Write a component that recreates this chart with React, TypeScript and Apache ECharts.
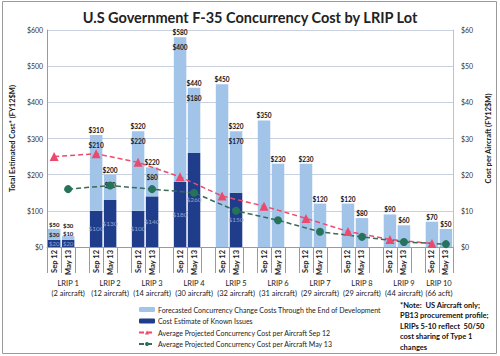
import React, { useEffect, useRef } from "react";
import * as echarts from "echarts";

const lots = ["LRIP 1", "LRIP 2", "LRIP 3", "LRIP 4", "LRIP 5", "LRIP 6", "LRIP 7", "LRIP 8", "LRIP 9", "LRIP 10"];
const aircraft = ["(2 aircraft)", "(12 aircraft)", "(14 aircraft)", "(30 aircraft)", "(32 aircraft)", "(31 aircraft)", "(29 aircraft)", "(29 aircraft)", "(44 aircraft)", "(66 acft)"];
const estimates = ["Sep 12", "May 13"];

// Cost estimate of known issues (dark blue), $M
const knownSep = [20, 100, 100, 180, null, null, null, null, null, null];
const knownMay = [20, 130, 140, 260, 150, null, null, null, null, null];
// Forecasted concurrency change costs (light blue segment), $M
const forecastSep = [30, 210, 220, 400, 450, 350, 230, 120, 90, 70];
const forecastMay = [10, 70, 80, 180, 170, 230, 120, 80, 60, 50];
// Totals, $M
const totalSep = [50, 310, 320, 580, 450, 350, 230, 120, 90, 70];
const totalMay = [30, 200, 220, 440, 320, 230, 120, 80, 60, 50];
// Average projected concurrency cost per aircraft, $M
const perAcSep = [25.0, 25.8, 23.4, 19.4, 14.1, 11.3, 7.9, 4.3, 2.1, 1.0];
const perAcMay = [16.0, 17.0, 16.0, 15.0, 10.0, 7.4, 4.2, 2.8, 1.4, 0.8];

const leftTicks = [0, 100, 200, 300, 400, 500, 600];
const rightTicks = [0, 10, 20, 30, 40, 50, 60];

const LIGHT = "#a2c4e8";
const DARK = "#1f3d8b";
const RED = "#ec4a6d";
const GREEN = "#24735a";
const FONT = "Lato";

// build 29 slots: Sep, May, blank per lot (no trailing blank)
const slotKeys: string[] = [];
const slotLabel: string[] = [];
function flat(sep: (number | null)[], may: (number | null)[]) {
  const out: (number | null)[] = [];
  for (let i = 0; i < lots.length; i++) {
    out.push(sep[i], may[i]);
    if (i < lots.length - 1) out.push(null);
  }
  return out;
}
for (let i = 0; i < lots.length; i++) {
  slotKeys.push(`L${i}S`, `L${i}M`);
  slotLabel.push(estimates[0], estimates[1]);
  if (i < lots.length - 1) {
    slotKeys.push(`L${i}B`);
    slotLabel.push("");
  }
}
const known = flat(knownSep, knownMay);
const forecast = flat(forecastSep, forecastMay);
const totals = flat(totalSep, totalMay);
const redLine = flat(perAcSep, lots.map(() => null));
const greenLine = flat(lots.map(() => null), perAcMay);

// label placement tweaks for the very short LRIP 1 bars
const lightLabelPos: Record<number, any> = {
  0: { position: "inside", fontSize: 6 },
  1: { position: "top", distance: 0, fontSize: 6 },
};
const totalLabelPos: Record<number, any> = {
  0: { distance: 1, fontSize: 6 },
  1: { distance: 8, fontSize: 6 },
};
const darkLabelPos: Record<number, any> = {
  0: { fontSize: 6 },
  1: { fontSize: 6 },
};

const knownData = known.map((v, i) => (darkLabelPos[i] ? { value: v, label: darkLabelPos[i] } : v));
const forecastData = forecast.map((v, i) => (lightLabelPos[i] ? { value: v, label: lightLabelPos[i] } : v));
const totalData = totals.map((v, i) => (totalLabelPos[i] ? { value: v, label: totalLabelPos[i] } : v));

// lot label axis: half-slot points
const nSlots = slotKeys.length;
const halfKeys: string[] = [];
const halfLabels: string[] = [];
for (let k = 0; k <= nSlots * 2; k++) {
  halfKeys.push(`h${k}`);
  halfLabels.push("");
}
for (let i = 0; i < lots.length; i++) {
  const center = i < lots.length - 1 ? 6 * i + 3 : 6 * i + 2;
  halfLabels[center] = `${lots[i]}\n${aircraft[i]}`;
}

const legendNames = [
  "Forecasted Concurrency Change Costs Through the End of Development",
  "Cost Estimate of Known Issues",
  "Average Projected Concurrency Cost per Aircraft Sep 12",
  "Average Projected Concurrency Cost per Aircraft May 13",
];

export default function App() {
  const ref = useRef<HTMLDivElement>(null);
  useEffect(() => {
    if (!ref.current) return;
    const chart = echarts.init(ref.current, null, { renderer: "svg" });
    chart.setOption({
      animation: false,
      backgroundColor: "#ffffff",
      textStyle: { fontFamily: FONT },
      title: {
        text: "U.S Government F-35 Concurrency Cost by LRIP Lot",
        left: "center",
        top: 5,
        textStyle: { fontFamily: FONT, fontSize: 14.5, fontWeight: "bold", color: "#222" },
      },
      graphic: [
        {
          type: "rect",
          shape: { x: 2.5, y: 1.5, width: 494, height: 352 },
          style: { fill: "none", stroke: "#9a9a9a", lineWidth: 1 },
          silent: true,
        },
        {
          type: "text",
          left: 400,
          top: 300,
          style: {
            text: "*Note:  US Aircraft only;\nPB13 procurement profile;\nLRIPs 5-10 reflect  50/50\ncost sharing of Type 1\nchanges",
            font: `bold 7.5px ${FONT}`,
            fill: "#111",
            lineHeight: 10.5,
          },
        },
      ],
      legend: {
        data: legendNames,
        orient: "vertical",
        left: 133,
        top: 301,
        itemGap: 4.5,
        itemWidth: 16,
        itemHeight: 5,
        textStyle: { fontFamily: FONT, fontSize: 7, color: "#222", padding: [0, 0, 0, -2] },
        selectedMode: false,
      },
      grid: { left: 43, right: 40, top: 30, bottom: 109, containLabel: false },
      xAxis: [
        {
          type: "category",
          data: slotKeys,
          axisLine: { lineStyle: { color: "#9a9a9a" } },
          axisTick: { show: true, length: 26, interval: 0, lineStyle: { color: "#9a9a9a" } },
          axisLabel: {
            interval: 0,
            rotate: 90,
            fontSize: 7.5,
            fontWeight: "bold",
            color: "#222",
            margin: 3,
            formatter: (_v: string, i: number) => slotLabel[i],
          },
          splitLine: { show: false },
        },
        {
          type: "category",
          data: halfKeys,
          boundaryGap: false,
          position: "bottom",
          offset: 30,
          axisLine: { show: false },
          axisTick: {
            show: true,
            length: 21,
            interval: (i: number) => i > 0 && i % 6 === 0 && i < nSlots * 2,
            lineStyle: { color: "#9a9a9a" },
          },
          axisLabel: {
            interval: 0,
            fontSize: 7.5,
            color: "#222",
            margin: 1,
            lineHeight: 10,
            formatter: (_v: string, i: number) => halfLabels[i],
          },
        },
      ],
      yAxis: [
        {
          type: "value",
          min: 0,
          max: 600,
          interval: 100,
          name: "Total Estimated Cost* (FY12$M)",
          nameLocation: "middle",
          nameGap: 28,
          nameRotate: 90,
          nameTextStyle: { fontFamily: FONT, fontSize: 7.5, fontWeight: "bold", color: "#222" },
          axisLine: { show: true, lineStyle: { color: "#9a9a9a" } },
          axisTick: { show: false },
          axisLabel: {
            fontSize: 7,
            color: "#333",
            margin: 4,
            formatter: (v: number) => (leftTicks.includes(v) ? `$${v}` : ""),
          },
          splitLine: { lineStyle: { color: "#c9d1de" } },
        },
        {
          type: "value",
          min: 0,
          max: 60,
          interval: 10,
          position: "right",
          name: "Cost per Aircraft (FY12$M)",
          nameLocation: "middle",
          nameGap: 27,
          nameRotate: 90,
          nameTextStyle: { fontFamily: FONT, fontSize: 7.5, fontWeight: "bold", color: "#222" },
          axisLine: { show: true, lineStyle: { color: "#b8c2d4" } },
          axisTick: { show: false },
          axisLabel: {
            fontSize: 7,
            color: "#333",
            margin: 8,
            formatter: (v: number) => (rightTicks.includes(v) ? `$${v}` : ""),
          },
          splitLine: { show: false },
        },
      ],
      series: [
        {
          name: legendNames[1],
          type: "bar",
          stack: "cost",
          barWidth: 12.5,
          data: knownData,
          itemStyle: { color: DARK },
          label: {
            show: true,
            position: "inside",
            fontSize: 6.5,
            color: "#8fa3cf",
            formatter: (p: any) => `$${p.value}`,
          },
        },
        {
          name: legendNames[0],
          type: "bar",
          stack: "cost",
          barWidth: 12.5,
          data: forecastData,
          itemStyle: { color: LIGHT },
          label: {
            show: true,
            position: "insideTop",
            distance: 7,
            fontSize: 6.5,
            fontWeight: "bold",
            color: "#222",
            formatter: (p: any) => (known[p.dataIndex] ? `$${p.value}` : ""),
          },
        },
        {
          name: "totals",
          type: "bar",
          barWidth: 12.5,
          barGap: "-100%",
          data: totalData,
          itemStyle: { color: "rgba(0,0,0,0)" },
          silent: true,
          z: 1,
          label: {
            show: true,
            position: "top",
            distance: 1,
            fontSize: 6.5,
            fontWeight: "bold",
            color: "#111",
            formatter: (p: any) => `$${p.value}`,
          },
        },
        {
          name: legendNames[2],
          type: "line",
          yAxisIndex: 1,
          data: redLine,
          connectNulls: true,
          symbol: "triangle",
          symbolSize: 9,
          itemStyle: { color: RED },
          lineStyle: { color: RED, width: 1.5, type: [5, 3] },
          z: 5,
        },
        {
          name: legendNames[3],
          type: "line",
          yAxisIndex: 1,
          data: greenLine,
          connectNulls: true,
          symbol: "circle",
          symbolSize: 8,
          itemStyle: { color: GREEN },
          lineStyle: { color: "#3a6a58", width: 1.5, type: [5, 3] },
          z: 5,
        },
      ],
    });
    return () => chart.dispose();
  }, []);
  return (
    <div
      ref={ref}
      style={{ position: "fixed", left: 0, top: 0, width: 500, height: 356, background: "#fff" }}
    />
  );
}
